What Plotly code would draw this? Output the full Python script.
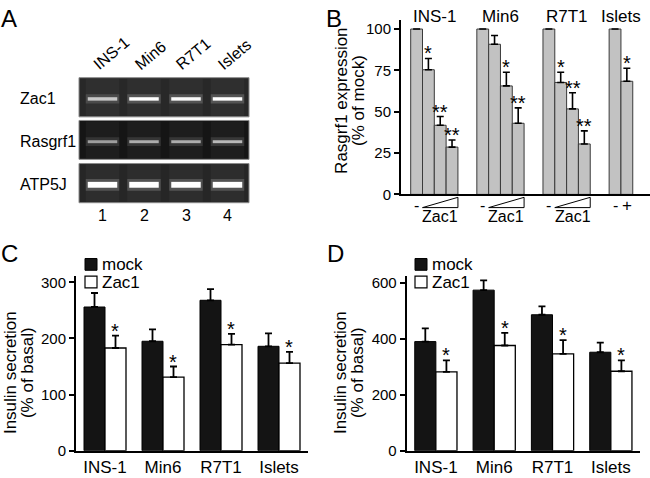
import plotly.graph_objects as go

W, H = 650, 478
FONT = "Arial, Liberation Sans, sans-serif"


def px(x):
    return x / W


def py(y):
    return 1 - y / H


# ---------------- data ----------------
# Panel A (RT-PCR gel)
gel_lanes = ["INS-1", "Min6", "R7T1", "Islets"]
gel_lane_numbers = ["1", "2", "3", "4"]
gel_rows = ["Zac1", "Rasgrf1", "ATP5J"]
gel_intensity = {
    "Zac1": [0.78, 1.0, 0.98, 1.0],
    "Rasgrf1": [0.62, 0.68, 0.68, 0.72],
    "ATP5J": [1.0, 1.0, 1.0, 1.0],
}

# Panel B (Rasgrf1 expression, % of mock)
b_groups = ["INS-1", "Min6", "R7T1", "Islets"]
b_values = {
    "INS-1": [100, 75.4, 41.8, 28.6],
    "Min6": [100, 90.8, 65.6, 43.0],
    "R7T1": [100, 67.7, 51.7, 30.5],
    "Islets": [100, 68.4],
}
b_errors = {
    "INS-1": [0, 6.8, 5.3, 4.3],
    "Min6": [0, 5.3, 8.3, 9.3],
    "R7T1": [0, 6.2, 9.8, 7.9],
    "Islets": [0, 7.9],
}
b_stars = {
    "INS-1": ["", "*", "**", "**"],
    "Min6": ["", "", "*", "**"],
    "R7T1": ["", "*", "**", "**"],
    "Islets": ["", "*"],
}
b_yticks = [0, 25, 50, 75, 100]

# Panels C and D (insulin secretion, % of basal)
cells = ["INS-1", "Min6", "R7T1", "Islets"]
series_names = ["mock", "Zac1"]
c_mock = [256, 195, 268, 186]
c_mock_err = [25, 21, 20, 23]
c_zac1 = [183, 131, 189, 156]
c_zac1_err = [22, 19, 19, 20]
c_stars = ["*", "*", "*", "*"]
c_yticks = [0, 100, 200, 300]

d_mock = [390, 574, 486, 352]
d_mock_err = [47, 35, 30, 34]
d_zac1 = [282, 376, 346, 284]
d_zac1_err = [41, 45, 49, 39]
d_stars = ["*", "*", "*", "*"]
d_yticks = [0, 200, 400, 600]

# ---------------- figure ----------------
fig = go.Figure()
shapes = []
annotations = []


def ann(text, x, y, size=15, xref="paper", yref="paper", xanchor="center",
        yanchor="middle", angle=0, yshift=0):
    annotations.append(dict(
        text=text, x=x, y=y, xref=xref, yref=yref, xanchor=xanchor,
        yanchor=yanchor, showarrow=False, textangle=angle, yshift=yshift,
        font=dict(family=FONT, size=size, color="black"), borderpad=0))


# ---- Panel A: gel ----
gel_x0, gel_x1 = 79, 249
row_boxes = [(77.3, 117.3), (121, 160.7), (165, 205)]
row_bg = ["#282828", "#151515", "#262626"]
band_y = [99, 142.7, 186.7]
band_h = [3.5, 3.0, 6.0]
lane_x = [102.5, 144, 186, 227.5]
band_w = 29.5

for r, row in enumerate(gel_rows):
    y0, y1 = row_boxes[r]
    shapes.append(dict(type="rect", xref="paper", yref="paper",
                       x0=px(gel_x0), x1=px(gel_x1), y0=py(y1), y1=py(y0),
                       fillcolor=row_bg[r], line=dict(color="#8a8a8a", width=1)))
    for i, lx in enumerate(lane_x):
        shapes.append(dict(type="rect", xref="paper", yref="paper",
                           x0=px(lx - band_w / 2 - 2), x1=px(lx + band_w / 2 + 2),
                           y0=py(y1 - 1), y1=py(y0 + 1),
                           fillcolor="white", opacity=0.035, line=dict(width=0)))
        inten = gel_intensity[row][i]
        g = int(round(255 * inten))
        col = f"rgb({g},{g},{g})"
        hh = band_h[r]
        shapes.append(dict(type="rect", xref="paper", yref="paper",
                           x0=px(lx - band_w / 2 - 2), x1=px(lx + band_w / 2 + 2),
                           y0=py(band_y[r] + hh / 2 + 3), y1=py(band_y[r] - hh / 2 - 3),
                           fillcolor=col, opacity=0.18, line=dict(width=0)))
        shapes.append(dict(type="rect", xref="paper", yref="paper",
                           x0=px(lx - band_w / 2), x1=px(lx + band_w / 2),
                           y0=py(band_y[r] + hh / 2), y1=py(band_y[r] - hh / 2),
                           fillcolor=col, line=dict(width=0)))
    ann(row, px(19), py(band_y[r]), size=16, xanchor="left")

for i, lane in enumerate(gel_lanes):
    ann(lane, px(lane_x[i] - 14), py(74), size=16, xanchor="left",
        yanchor="bottom", angle=-40)
    ann(gel_lane_numbers[i], px(lane_x[i]), py(218), size=16)

# ---- Panel B ----
GAP = 1.6
pos = 0.0
b_x, b_y, b_err = [], [], []
star_x, star_y, star_t = [], [], []
group_info = []
for g in b_groups:
    vals = b_values[g]
    xs = [pos + k for k in range(len(vals))]
    group_info.append((g, xs))
    b_x += xs
    b_y += vals
    b_err += b_errors[g]
    for k, v in enumerate(vals):
        if b_stars[g][k]:
            star_x.append(xs[k])
            star_y.append(v + b_errors[g][k])
            star_t.append(b_stars[g][k])
    pos = xs[-1] + 1 + GAP

fig.add_trace(go.Bar(
    x=b_x, y=b_y, width=1, xaxis="x", yaxis="y",
    marker=dict(color="#c2c2c2", line=dict(color="#3a3a3a", width=1)),
    error_y=dict(type="data", array=b_err, arrayminus=[0] * len(b_err),
                 symmetric=False, color="black", thickness=1.6, width=3.5),
    showlegend=False))
for sx, sy, st in zip(star_x, star_y, star_t):
    ann(st, sx, sy, size=20, xref="x", yref="y", yanchor="middle", yshift=5)

for g, xs in group_info:
    ann(g, (xs[0] + xs[-1]) / 2, py(15), size=17, xref="x")
    if len(xs) > 2:
        ann("-", xs[0], py(208), size=16, xref="x")
        xl, xr = xs[1] - 0.5, xs[-1] + 0.5
        shapes.append(dict(type="path", xref="x", yref="paper",
                           path=f"M {xl},{py(210)} L {xr},{py(210)} L {xr},{py(199.5)} Z",
                           fillcolor="white", line=dict(color="black", width=1)))
        ann("Zac1", (xl + xr) / 2, py(219), size=16, xref="x")
    else:
        ann("-", xs[0], py(208), size=16, xref="x")
        ann("+", xs[1], py(208), size=17, xref="x")

ann("Rasgrf1 expression", px(342), py(101), size=17, angle=-90)
ann("(% of mock)", px(359), py(101), size=17, angle=-90)

# ---- Panels C and D ----
for xa, ya, mock, merr, zac, zerr in (("x2", "y2", c_mock, c_mock_err, c_zac1, c_zac1_err),
                                      ("x3", "y3", d_mock, d_mock_err, d_zac1, d_zac1_err)):
    fig.add_trace(go.Bar(
        x=cells, y=mock, name=series_names[0], xaxis=xa, yaxis=ya,
        marker=dict(color="#141414", line=dict(color="black", width=1)),
        error_y=dict(type="data", array=merr, arrayminus=[0] * len(merr),
                     symmetric=False, color="black", thickness=1.8, width=3.5),
        showlegend=False))
    fig.add_trace(go.Bar(
        x=cells, y=zac, name=series_names[1], xaxis=xa, yaxis=ya,
        marker=dict(color="white", line=dict(color="black", width=1.3)),
        error_y=dict(type="data", array=zerr, arrayminus=[0] * len(zerr),
                     symmetric=False, color="black", thickness=1.8, width=3.5),
        showlegend=False))

# stars above Zac1 bars (Zac1 bar sits right of each category centre)
for xa, ya, zac, zerr, stars in (("x2", "y2", c_zac1, c_zac1_err, c_stars),
                                 ("x3", "y3", d_zac1, d_zac1_err, d_stars)):
    for i, cname in enumerate(cells):
        annotations.append(dict(
            text=stars[i], x=i + 0.18, y=zac[i] + zerr[i], xref=xa, yref=ya,
            showarrow=False, yanchor="middle", yshift=5,
            font=dict(family=FONT, size=20, color="black")))

# legends
for lx in (85, 415):
    shapes.append(dict(type="rect", xref="paper", yref="paper",
                       x0=px(lx), x1=px(lx + 12), y0=py(274), y1=py(262),
                       fillcolor="#141414", line=dict(color="black", width=1)))
    shapes.append(dict(type="rect", xref="paper", yref="paper",
                       x0=px(lx), x1=px(lx + 12), y0=py(292), y1=py(280),
                       fillcolor="white", line=dict(color="black", width=1.2)))
    ann(series_names[0], px(lx + 16), py(268), size=17, xanchor="left")
    ann(series_names[1], px(lx + 16), py(286), size=17, xanchor="left")

for cx in (10, 340):
    ann("Insulin secretion", px(cx), py(379), size=17, angle=-90)
    ann("(% of basal)", px(cx + 17), py(379), size=17, angle=-90)

# panel letters
for letter, x, y in (("A", 0, 2), ("B", 325, 2), ("C", 0, 242), ("D", 326, 242)):
    ann(letter, px(x), py(y), size=24, xanchor="left", yanchor="top")

axis_common = dict(showgrid=False, zeroline=False, showline=True,
                   linecolor="black", linewidth=2)
ytick_font = dict(family=FONT, size=15, color="black")
xcat_font = dict(family=FONT, size=17, color="black")

fig.update_layout(
    width=W, height=H,
    margin=dict(l=0, r=0, t=0, b=0),
    paper_bgcolor="white", plot_bgcolor="white",
    barmode="group", bargap=0.276, bargroupgap=0,
    font=dict(family=FONT, color="black"),
    xaxis=dict(domain=[px(401), px(650)], range=[-1.32, 19.76],
               showticklabels=False, ticks="", anchor="y", **axis_common),
    yaxis=dict(domain=[py(196.5), py(18)], range=[0, 105.7],
               tickvals=b_yticks, ticks="outside", ticklen=5, tickwidth=1.5,
               tickcolor="black", anchor="x", tickfont=ytick_font, **axis_common),
    xaxis2=dict(domain=[px(76), px(308)], range=[-0.5, 3.5], type="category",
                ticks="", anchor="y2", tickfont=xcat_font, **axis_common),
    yaxis2=dict(domain=[py(458.3), py(280)], range=[0, 311],
                tickvals=c_yticks, ticks="outside", ticklen=5, tickwidth=1.5,
                tickcolor="black", anchor="x2", tickfont=ytick_font, **axis_common),
    xaxis3=dict(domain=[px(406.7), px(640)], range=[-0.5, 3.5], type="category",
                ticks="", anchor="y3", tickfont=xcat_font, **axis_common),
    yaxis3=dict(domain=[py(458.3), py(280)], range=[0, 624],
                tickvals=d_yticks, ticks="outside", ticklen=5, tickwidth=1.5,
                tickcolor="black", anchor="x3", tickfont=ytick_font, **axis_common),
    shapes=shapes,
    annotations=annotations,
)

fig.write_html("out.html", config={"displayModeBar": False},
               post_script="document.body.style.margin='0px';document.body.style.overflow='hidden';")
